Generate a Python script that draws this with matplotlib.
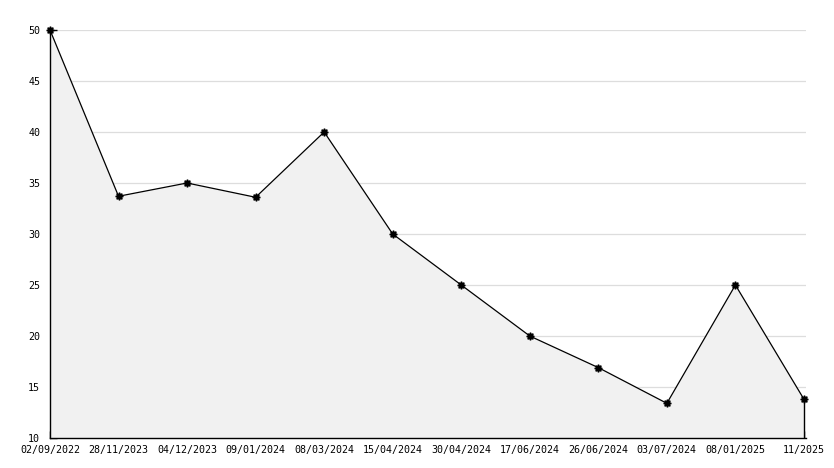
import matplotlib
matplotlib.use("Agg")
import matplotlib.pyplot as plt
from matplotlib.ticker import MultipleLocator

dates = ["02/09/2022", "28/11/2023", "04/12/2023", "09/01/2024", "08/03/2024",
         "15/04/2024", "30/04/2024", "17/06/2024", "26/06/2024", "03/07/2024",
         "08/01/2025", "11/2025"]
values = [50, 33.7, 35.0, 33.6, 40, 30, 25, 20, 16.9, 13.4, 25, 13.8]

fig = plt.figure(figsize=(8.34, 4.68), dpi=100)
ax = fig.add_axes([50/834, 30/468, 756/834, 408/468])

x = list(range(len(values)))
ax.fill_between(x, values, 10, color="#f1f1f1", zorder=1, linewidth=0)
# closing edge of the area at the last point
ax.plot([x[-1], x[-1]], [10, values[-1]], color="black", linewidth=1, zorder=2)
ax.plot(x, values, color="black", linewidth=0.9, zorder=3, clip_on=False,
        marker=(8, 1, 0), markersize=5.5, markerfacecolor="black", markeredgecolor="black")

ax.set_xlim(0, 11.03)
ax.set_ylim(10, 50)
ax.yaxis.set_major_locator(MultipleLocator(5))
ax.yaxis.set_minor_locator(MultipleLocator(1))
ax.set_xticks(x)
ax.set_xticklabels(dates)

ax.grid(axis="y", which="major", color="#dddddd", linewidth=0.9, zorder=0)
ax.set_axisbelow(True)

for s in ["top", "right"]:
    ax.spines[s].set_visible(False)
for s in ["left", "bottom"]:
    ax.spines[s].set_color("black")
    ax.spines[s].set_linewidth(1)

ax.tick_params(axis="both", which="major", direction="in", length=5, width=1,
               labelsize=7.2, colors="black")
ax.tick_params(axis="y", which="minor", direction="in", length=3, width=1)
ax.tick_params(axis="y", pad=7)
ax.tick_params(axis="x", pad=5)
for lbl in ax.get_xticklabels() + ax.get_yticklabels():
    lbl.set_family("DejaVu Sans Mono")

fig.savefig("out.png", dpi=100)
